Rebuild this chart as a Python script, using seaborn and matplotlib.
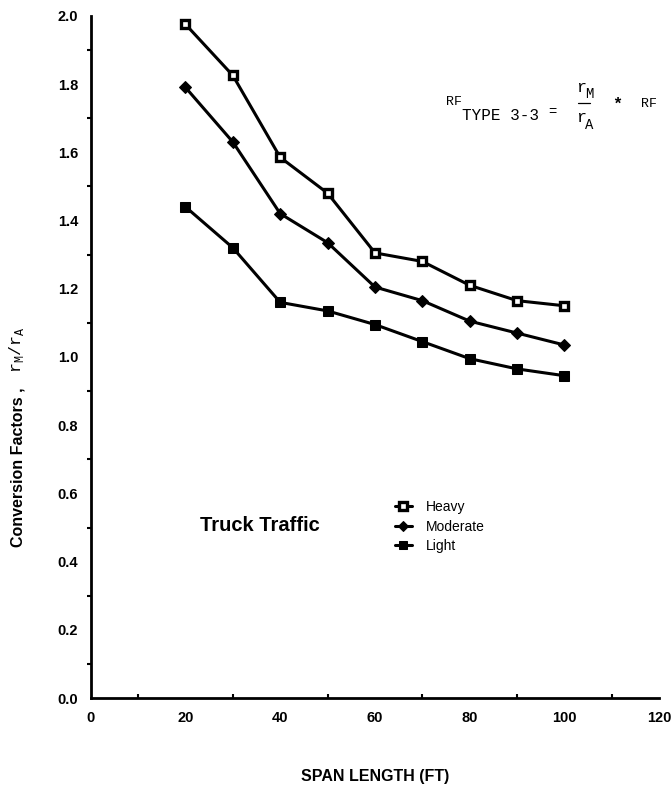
import matplotlib
matplotlib.use("Agg")
import matplotlib.pyplot as plt
from matplotlib.ticker import MultipleLocator, FormatStrFormatter
import seaborn as sns
import pandas as pd

# Span lengths (ft) and conversion factors r_M / r_A per truck traffic level
span_ft = [20, 30, 40, 50, 60, 70, 80, 90, 100]
heavy = [1.975, 1.825, 1.585, 1.48, 1.305, 1.28, 1.21, 1.165, 1.15]
moderate = [1.79, 1.63, 1.42, 1.335, 1.205, 1.165, 1.105, 1.07, 1.035]
light = [1.44, 1.32, 1.16, 1.135, 1.095, 1.045, 0.995, 0.965, 0.945]
series_names = ["Heavy", "Moderate", "Light"]

sns.set_theme(style="white")
plt.rcParams["font.family"] = ["Liberation Sans", "DejaVu Sans"]
plt.rcParams.update({"text.color": "black", "axes.labelcolor": "black",
                     "xtick.color": "black", "ytick.color": "black"})

fig = plt.figure(figsize=(6.72, 7.88), dpi=100)
ax = fig.add_axes([0.135, 0.114, 0.846, 0.866])

marker_styles = {
    "Heavy": dict(marker="s", markersize=5.5, markerfacecolor="white",
                  markeredgecolor="black", markeredgewidth=2.4),
    "Moderate": dict(marker="D", markersize=6, markerfacecolor="black",
                     markeredgecolor="black"),
    "Light": dict(marker="s", markersize=7.5, markerfacecolor="black",
                  markeredgecolor="black"),
}

for name, vals in zip(series_names, [heavy, moderate, light]):
    df = pd.DataFrame({"span": span_ft, "factor": vals})
    sns.lineplot(data=df, x="span", y="factor", ax=ax, color="black",
                 linewidth=2.2, label=name, **marker_styles[name])

ax.set_xlim(0, 120)
ax.set_ylim(0, 2.0)
ax.xaxis.set_major_locator(MultipleLocator(20))
ax.xaxis.set_minor_locator(MultipleLocator(10))
ax.yaxis.set_major_locator(MultipleLocator(0.2))
ax.yaxis.set_minor_locator(MultipleLocator(0.1))
ax.yaxis.set_major_formatter(FormatStrFormatter("%.1f"))

for side in ["top", "right"]:
    ax.spines[side].set_visible(False)
for side in ["left", "bottom"]:
    ax.spines[side].set_linewidth(2.0)
    ax.spines[side].set_color("black")

ax.tick_params(axis="both", which="major", direction="out", length=5,
               width=1.8, color="black", labelcolor="black", labelsize=10.5, pad=4)
ax.tick_params(axis="x", which="minor", direction="in", length=3, width=1.5,
               color="black", bottom=True)
ax.tick_params(axis="y", which="minor", direction="out", length=3, width=1.5,
               color="black", left=True)
for lab in ax.get_xticklabels() + ax.get_yticklabels():
    lab.set_fontweight("bold")

ax.set_xlabel("")
ax.set_ylabel("")

# Axis titles
fig.text(0.5585, 1 - 777 / 788, "SPAN LENGTH (FT)", ha="center", va="center",
         fontsize=11.5, fontweight="bold")
fig.text(0.027, 1 - 467 / 788, "Conversion Factors ,", rotation=90,
         ha="center", va="center", fontsize=11.5, fontweight="bold")
mono = ["Liberation Mono", "DejaVu Sans Mono"]
fig.text(0.025, 1 - 350 / 788, r"r$_{\mathregular{M}}$/r$_{\mathregular{A}}$",
         rotation=90, ha="center", va="center", fontsize=12, family=mono)

# Annotation
ax.text(23, 0.507, "Truck Traffic", ha="left", va="center",
        fontsize=14.5, fontweight="bold")

# Formula
fig.text(446 / 672, 1 - 102 / 788, "RF", fontsize=9.5, family=mono, va="center")
fig.text(462 / 672, 1 - 115 / 788, "TYPE 3-3", fontsize=11.5, family=mono, va="center")
fig.text(548 / 672, 1 - 112 / 788, "=", fontsize=10, family=mono, va="center")
fig.text(576 / 672, 1 - 88 / 788, "r", fontsize=12, family=mono, va="center")
fig.text(585 / 672, 1 - 94 / 788, "M", fontsize=10, family=mono, va="center")
fig.text(576 / 672, 1 - 117 / 788, "r", fontsize=12, family=mono, va="center")
fig.text(585 / 672, 1 - 125 / 788, "A", fontsize=10, family=mono, va="center")
fig.add_artist(plt.Line2D([578 / 672, 590 / 672], [1 - 103 / 788, 1 - 103 / 788],
                          color="black", linewidth=0.9, transform=fig.transFigure))
fig.text(612 / 672, 1 - 104 / 788, "*", fontsize=12, family=mono, va="center",
         fontweight="bold")
fig.text(641 / 672, 1 - 104 / 788, "RF", fontsize=9.5, family=mono, va="center")

leg = ax.legend(loc="upper left", bbox_to_anchor=(0.535, 0.29), frameon=False,
                fontsize=10, handlelength=1.2, handletextpad=1.0,
                labelspacing=0.38, borderaxespad=0, borderpad=0)
for h in leg.legend_handles:
    h.set_markersize(5.5)
for t in leg.get_texts():
    t.set_color("black")

fig.savefig("out.png", dpi=100, facecolor="white")
